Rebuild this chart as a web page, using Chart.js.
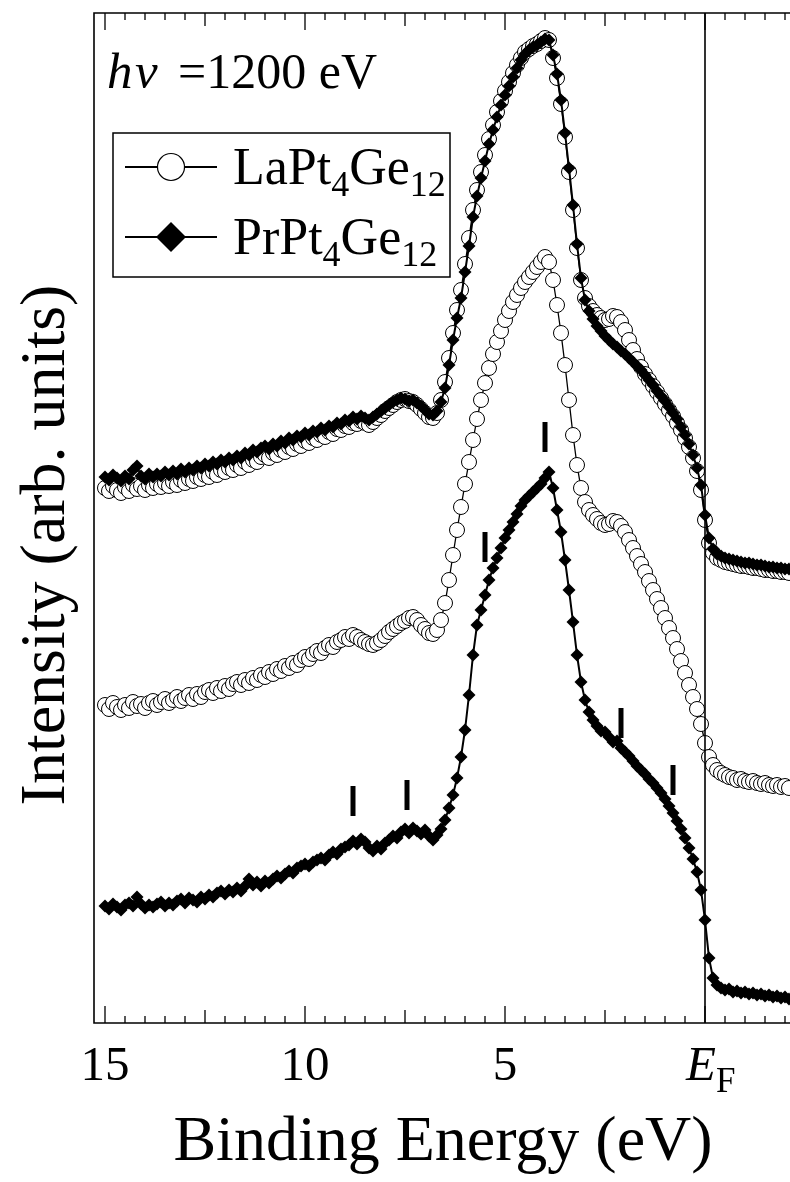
<!DOCTYPE html>
<html>
<head>
<meta charset="utf-8">
<script src="https://cdn.jsdelivr.net/npm/chart.js@4.4.1/dist/chart.umd.min.js"></script>
<style>
  html, body { margin: 0; padding: 0; background: #fff; overflow: hidden; }
  #wrap { width: 790px; height: 1182px; }
</style>
</head>
<body>
<div id="wrap"><canvas id="chart" width="790" height="1182"></canvas></div>
<script>
// binding energy grid (eV)
const energies = [
  15,14.9,14.8,14.7,14.6,14.5,14.4,14.3,14.2,14.1,
  14,13.9,13.8,13.7,13.6,13.5,13.4,13.3,13.2,13.1,
  13,12.9,12.8,12.7,12.6,12.5,12.4,12.3,12.2,12.1,
  12,11.9,11.8,11.7,11.6,11.5,11.4,11.3,11.2,11.1,
  11,10.9,10.8,10.7,10.6,10.5,10.4,10.3,10.2,10.1,
  10,9.9,9.8,9.7,9.6,9.5,9.4,9.3,9.2,9.1,
  9,8.9,8.8,8.7,8.6,8.5,8.4,8.3,8.2,8.1,
  8,7.9,7.8,7.7,7.6,7.5,7.4,7.3,7.2,7.1,
  7,6.9,6.8,6.7,6.6,6.5,6.4,6.3,6.2,6.1,
  6,5.9,5.8,5.7,5.6,5.5,5.4,5.3,5.2,5.1,
  5,4.9,4.8,4.7,4.6,4.5,4.4,4.3,4.2,4.1,
  4,3.9,3.8,3.7,3.6,3.5,3.4,3.3,3.2,3.1,
  3,2.9,2.8,2.7,2.6,2.5,2.4,2.3,2.2,2.1,
  2,1.9,1.8,1.7,1.6,1.5,1.4,1.3,1.2,1.1,
  1,0.9,0.8,0.7,0.6,0.5,0.4,0.3,0.2,0.1,
  0,-0.1,-0.2,-0.3,-0.4,-0.5,-0.6,-0.7,-0.8,-0.9,
  -1,-1.1,-1.2,-1.3,-1.4,-1.5,-1.6,-1.7,-1.8,-1.9,
  -2,-2.1
];

// LaPt4Ge12, upper (overlaid) spectrum
const laTop = [
  53.5,53.2,53.7,53.3,53.0,53.6,53.2,53.8,53.4,53.7,
  53.3,53.8,53.5,53.9,53.6,54.0,53.7,54.1,53.8,54.3,
  54.0,54.4,54.2,54.6,54.4,54.8,54.6,55.1,54.8,55.3,
  55.1,55.5,55.3,55.8,55.5,56.1,55.8,56.3,56.1,56.6,
  56.8,56.5,57.0,56.8,57.3,57.1,57.6,57.4,57.9,57.7,
  58.2,58.0,58.5,58.3,58.8,58.6,59.1,58.9,59.4,59.3,
  59.7,59.6,60.0,59.9,60.2,60.0,59.8,60.1,60.5,60.8,
  61.2,61.5,61.8,62.1,62.3,62.4,62.2,62.1,61.8,61.4,
  61.0,60.6,60.5,61.0,62.3,64.1,66.5,69.0,71.3,73.3,
  75.9,78.5,81.3,83.3,85.1,86.8,88.4,89.8,91.1,92.2,
  93.2,94.1,95.0,95.8,96.5,97.1,97.4,97.7,97.9,98.2,
  98.5,98.3,96.5,94.5,91.9,88.6,85.1,81.3,77.5,74.3,
  72.5,71.7,71.2,70.8,70.5,70.3,70.4,70.7,70.6,70.1,
  69.3,68.3,67.3,66.4,65.6,64.9,64.3,63.7,63.1,62.5,
  61.9,61.3,60.7,60.0,59.3,58.5,57.6,56.5,55.2,53.3,
  50.3,48.0,47.0,46.5,46.3,46.1,46.0,45.9,45.8,45.7,
  45.7,45.6,45.5,45.5,45.4,45.3,45.3,45.2,45.2,45.1,
  45.1,45.0
];

// PrPt4Ge12, upper (overlaid) spectrum
const prTop = [
  54.6,54.3,54.8,54.5,54.2,54.7,54.4,55.3,55.7,54.7,
  54.4,54.9,54.6,54.9,54.7,55.1,54.8,55.2,54.9,55.4,
  55.1,55.5,55.3,55.7,55.5,55.9,55.7,56.1,55.9,56.3,
  56.1,56.5,56.3,56.7,56.5,57.0,56.8,57.3,57.1,57.5,
  57.7,57.4,57.9,57.7,58.2,58.0,58.5,58.3,58.7,58.6,
  59.0,58.8,59.2,59.1,59.5,59.3,59.7,59.6,60.0,59.9,
  60.3,60.2,60.6,60.4,60.7,60.5,60.3,60.6,60.9,61.2,
  61.5,61.8,62.1,62.3,62.5,62.4,62.2,62.3,62.0,61.7,
  61.3,60.9,60.8,61.2,62.1,63.5,65.8,68.3,70.5,72.5,
  75.1,77.7,80.6,82.7,84.5,86.2,87.9,89.3,90.6,91.8,
  92.8,93.7,94.6,95.5,96.3,96.9,97.3,97.6,97.8,98.1,
  98.4,98.3,96.8,94.9,92.3,89.0,85.5,81.8,77.9,74.5,
  72.3,71.2,70.4,69.7,69.2,68.7,68.3,67.9,67.6,67.2,
  66.9,66.5,66.1,65.7,65.3,64.8,64.3,63.8,63.2,62.7,
  62.2,61.6,61.0,60.4,59.6,58.8,57.9,56.8,55.5,53.8,
  50.8,48.5,47.4,46.9,46.7,46.5,46.4,46.3,46.2,46.1,
  46.0,46.0,45.9,45.8,45.8,45.7,45.6,45.6,45.5,45.5,
  45.4,45.4
];

// LaPt4Ge12, middle spectrum
const laMid = [
  31.8,31.4,32.0,31.6,31.3,31.8,31.5,32.1,31.7,31.9,
  31.5,32.0,32.2,31.8,32.1,32.4,32.0,32.3,32.6,32.2,
  32.5,32.8,32.4,32.9,32.6,33.1,33.3,33.0,33.5,33.2,
  33.7,33.4,33.9,34.1,33.8,34.3,34.0,34.5,34.3,34.8,
  34.6,35.1,34.9,35.4,35.2,35.7,35.5,36.0,35.8,36.3,
  36.6,36.4,36.9,37.2,37.0,37.5,37.8,37.6,38.1,38.3,
  38.6,38.4,38.8,38.6,38.3,38.1,37.9,37.8,38.0,38.3,
  38.7,39.1,39.4,39.7,40.0,40.2,40.5,40.6,40.3,39.8,
  39.4,39.0,38.9,39.3,40.3,42.0,44.3,46.8,49.3,51.6,
  53.9,56.1,58.3,60.4,62.3,64.0,65.5,66.9,68.1,69.2,
  70.3,71.2,72.1,72.8,73.5,74.1,74.6,75.1,75.6,76.1,
  76.6,76.1,74.3,71.8,69.0,65.8,62.3,58.8,55.8,53.5,
  52.1,51.3,50.8,50.4,50.0,49.8,49.9,50.2,50.1,49.7,
  49.1,48.3,47.5,46.7,45.9,45.1,44.2,43.3,42.4,41.5,
  40.5,39.5,38.5,37.4,36.2,35.0,33.8,32.6,31.4,29.9,
  28.0,26.6,25.8,25.3,25.0,24.8,24.6,24.5,24.3,24.4,
  24.2,24.1,24.2,24.0,23.9,24.0,23.8,23.7,23.8,23.6,
  23.7,23.5
];

// PrPt4Ge12, lower spectrum
const prBottom = [
  11.7,11.4,11.9,11.6,11.3,11.8,12.0,11.7,12.6,11.9,
  11.5,11.8,11.6,11.9,12.1,11.7,12.0,11.8,12.2,12.4,
  12.0,12.5,12.3,12.1,12.6,12.4,12.8,12.6,13.0,13.2,
  12.9,13.3,13.1,13.5,13.2,13.7,14.4,13.8,14.1,13.7,
  14.2,14.0,14.4,14.7,14.5,14.9,15.2,15.0,15.5,15.7,
  15.9,15.7,16.1,16.3,16.5,16.3,16.8,17.1,16.9,17.4,
  17.6,17.8,18.2,17.9,18.4,18.1,17.5,17.2,17.7,17.4,
  18.0,18.3,18.7,18.5,19.1,19.4,19.0,19.5,19.2,18.9,
  19.3,18.7,18.3,18.8,19.4,20.3,21.5,22.8,24.5,26.6,
  29.3,32.8,36.8,39.8,41.3,42.8,44.3,45.5,46.5,47.5,
  48.5,49.3,50.1,50.9,51.7,52.3,52.7,53.1,53.5,53.9,
  54.5,55.1,53.5,51.3,49.1,46.3,43.3,40.1,36.8,34.1,
  32.3,31.1,30.3,29.7,29.2,29.1,28.6,28.1,28.2,27.5,
  27.1,26.7,26.2,25.7,25.3,24.9,24.4,24.0,23.5,23.0,
  22.4,21.7,21.0,20.2,19.4,18.5,17.5,16.4,15.1,13.3,
  10.3,6.5,4.5,3.8,3.5,3.3,3.4,3.1,3.2,3.0,
  3.1,2.9,3.0,2.8,2.9,2.7,2.8,2.6,2.7,2.5,
  2.6,2.4
];

// feature markers above the lower spectrum
const markerEnergies = [8.8, 7.45, 5.5, 4.0, 2.1, 0.8];
const markerLevels = [22.2, 22.8, 47.6, 58.6, 30.0, 24.3];

const tickValues = [15, 10, 5, 0];
const tickLabels = ['15', '10', '5', 'E_F'];
const seriesNames = [['LaPt', '4', 'Ge', '12'], ['PrPt', '4', 'Ge', '12']];
const photonEnergy = '=1200 eV';

const serif = '"Liberation Serif", "Times New Roman", serif';

function toPoints(vals) {
  return vals.map((v, i) => ({ x: energies[i], y: v }));
}

function drawParts(ctx, parts, x, y, big, small) {
  // alternate normal / subscript pieces
  parts.forEach((p, i) => {
    ctx.font = (i % 2 ? small : big) + 'px ' + serif;
    ctx.fillText(p, x, i % 2 ? y + 12 : y);
    x += ctx.measureText(p).width;
  });
}

const decorPlugin = {
  id: 'decor',
  afterDraw(chart) {
    const ctx = chart.ctx;
    const a = chart.chartArea;
    const xs = chart.scales.x;
    ctx.save();
    ctx.strokeStyle = '#000';
    ctx.fillStyle = '#000';

    // frame (right side runs off the page)
    ctx.lineWidth = 1.6;
    ctx.beginPath();
    ctx.moveTo(a.right + 5, a.top);
    ctx.lineTo(a.left, a.top);
    ctx.lineTo(a.left, a.bottom);
    ctx.lineTo(a.right + 5, a.bottom);
    const ef = xs.getPixelForValue(0);
    ctx.moveTo(ef, a.top);
    ctx.lineTo(ef, a.bottom);
    ctx.stroke();

    // inward ticks every 0.5 eV, top and bottom
    ctx.lineWidth = 1.3;
    ctx.beginPath();
    for (let k = -4; k <= 30; k++) {
      const e = k / 2;
      const px = xs.getPixelForValue(e);
      if (px < a.left + 2 || px > a.right) continue;
      let len = 7;
      if (k % 10 === 0) len = 17;
      else if (k % 5 === 0) len = 13;
      ctx.moveTo(px, a.bottom);
      ctx.lineTo(px, a.bottom - len);
      ctx.moveTo(px, a.top);
      ctx.lineTo(px, a.top + len);
    }
    ctx.stroke();

    // tick labels
    ctx.textBaseline = 'alphabetic';
    tickValues.forEach((v, i) => {
      const px = xs.getPixelForValue(v);
      const lab = tickLabels[i];
      if (lab === 'E_F') {
        ctx.textAlign = 'left';
        ctx.font = 'italic 49px ' + serif;
        ctx.fillText('E', px - 19, a.bottom + 57);
        const w = ctx.measureText('E').width;
        ctx.font = '35px ' + serif;
        ctx.fillText('F', px - 19 + w, a.bottom + 69);
      } else {
        ctx.textAlign = 'center';
        ctx.font = '49px ' + serif;
        ctx.fillText(lab, px, a.bottom + 57);
      }
    });

    // axis titles
    ctx.textAlign = 'center';
    ctx.font = '64px ' + serif;
    ctx.fillText('Binding Energy (eV)', 443, 1160);
    ctx.save();
    ctx.translate(47, 545);
    ctx.rotate(-Math.PI / 2);
    ctx.textBaseline = 'middle';
    ctx.fillText('Intensity (arb. units)', 0, 0);
    ctx.restore();

    // photon energy note
    ctx.textAlign = 'left';
    ctx.textBaseline = 'alphabetic';
    ctx.font = 'italic 51px ' + serif;
    ctx.fillText('h', 107, 88);
    ctx.fillText('\u03BD', 135, 88);
    ctx.font = '50px ' + serif;
    ctx.fillText(photonEnergy, 178, 88);

    // legend box
    ctx.fillStyle = '#fff';
    ctx.fillRect(113, 133, 337, 144);
    ctx.lineWidth = 1.5;
    ctx.strokeRect(113, 133, 337, 144);
    const rows = [167, 237];
    rows.forEach((ry, i) => {
      ctx.lineWidth = 2;
      ctx.beginPath();
      ctx.moveTo(125, ry);
      ctx.lineTo(217, ry);
      ctx.stroke();
      ctx.beginPath();
      if (i === 0) {
        ctx.arc(171, ry, 13.5, 0, Math.PI * 2);
        ctx.fillStyle = '#fff';
        ctx.fill();
        ctx.lineWidth = 1.2;
        ctx.stroke();
      } else {
        ctx.moveTo(171 - 15, ry);
        ctx.lineTo(171, ry - 15);
        ctx.lineTo(171 + 15, ry);
        ctx.lineTo(171, ry + 15);
        ctx.closePath();
        ctx.fillStyle = '#000';
        ctx.fill();
      }
      ctx.fillStyle = '#000';
      drawParts(ctx, seriesNames[i], 233, ry + 17, 52, 36);
    });
    ctx.restore();
  }
};

const circleStyle = {
  showLine: true,
  borderColor: '#000',
  borderWidth: 1.3,
  pointStyle: 'circle',
  pointRadius: 7.5,
  pointBackgroundColor: '#fff',
  pointBorderColor: '#000',
  pointBorderWidth: 1,
  tension: 0
};
const diamondStyle = {
  showLine: true,
  borderColor: '#000',
  borderWidth: 2,
  pointStyle: 'rectRot',
  pointRadius: 6.5,
  pointBackgroundColor: '#000',
  pointBorderColor: '#000',
  pointBorderWidth: 0,
  tension: 0
};

new Chart(document.getElementById('chart'), {
  type: 'scatter',
  data: {
    datasets: [
      Object.assign({ label: 'PrPt4Ge12 (top)', data: toPoints(prTop), order: 1 }, diamondStyle),
      Object.assign({ label: 'LaPt4Ge12 (top)', data: toPoints(laTop), order: 2 }, circleStyle),
      Object.assign({ label: 'LaPt4Ge12', data: toPoints(laMid), order: 3 }, circleStyle),
      Object.assign({ label: 'PrPt4Ge12', data: toPoints(prBottom), order: 4 }, diamondStyle),
      {
        label: 'markers',
        data: markerEnergies.map((e, i) => ({ x: e, y: markerLevels[i] })),
        showLine: false,
        pointStyle: 'line',
        rotation: 90,
        pointRadius: 15,
        pointBorderWidth: 5,
        pointBorderColor: '#000',
        order: 0
      }
    ]
  },
  options: {
    responsive: false,
    animation: false,
    devicePixelRatio: 1,
    layout: { autoPadding: false, padding: { left: 94, top: 13, right: 0, bottom: 159 } },
    plugins: { legend: { display: false }, tooltip: { enabled: false } },
    scales: {
      x: { type: 'linear', reverse: true, min: -2.125, max: 15.275, display: false },
      y: { type: 'linear', min: 0, max: 101, display: false }
    }
  },
  plugins: [decorPlugin]
});
</script>
</body>
</html>
